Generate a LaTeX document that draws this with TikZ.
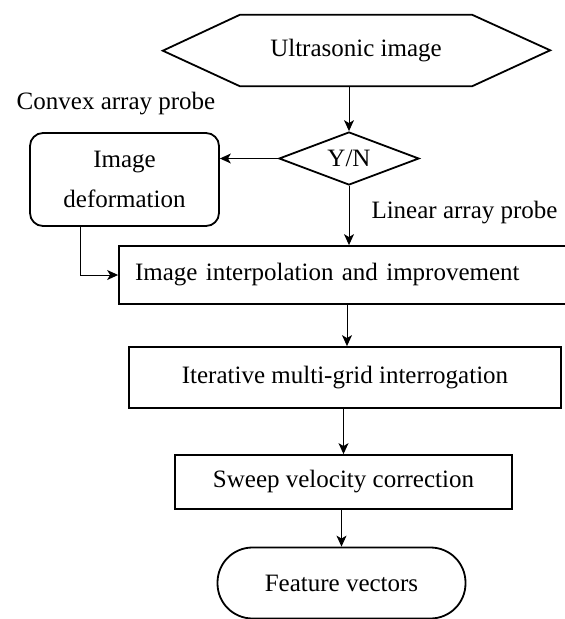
\documentclass[tikz,border=0pt]{standalone}
\usepackage{fontspec}
\setmainfont{Liberation Serif}
\usetikzlibrary{arrows.meta,shapes.geometric}

\tikzset{
  shapeline/.style={draw=black, line width=1.8pt},
  procbox/.style={shapeline, rectangle, inner sep=0pt, align=center},
  roundbox/.style={shapeline, rectangle, rounded corners=13pt, inner sep=0pt, align=center},
  decision/.style={shapeline, diamond, aspect=2.64, inner sep=1pt},
  terminal/.style={shapeline, rectangle, rounded corners=35pt, inner sep=0pt},
  plain/.style={inner sep=0pt},
  arr/.style={draw=black, line width=1pt, -{Stealth[length=11pt,width=10pt,inset=3pt]}},
}

\begin{document}
\begin{tikzpicture}[x=1pt, y=-1pt, font=\fontsize{25}{40}\selectfont]
  \useasboundingbox (0,0) rectangle (565,619);

  % start: hexagon
  \node[plain, minimum width=232pt, minimum height=71pt] (hex) at (356,50.5) {Ultrasonic image};
  \draw[line width=1.8pt, line join=miter]
    (hex.north west) -- (hex.north east) -- ++(78,35.5) -- (hex.south east)
    -- (hex.south west) -- ++(-77,-35.5) -- cycle;

  % probe decision
  \node[decision, minimum width=140pt, minimum height=53pt] (dia) at (349,158.5) {Y/N};

  % convex branch
  \node[roundbox, minimum width=189pt, minimum height=93pt] (deform) at (124.5,179.5)
    {Image\\deformation};
  \node[plain] (convex) at (116,104) {Convex array probe};
  \node[plain] (linear) at (464.5,213) {Linear array probe};

  % processing chain
  \node[procbox, minimum height=58pt, text width=420pt, align=left, inner xsep=16pt] (interp)
    at (345,275) {Image interpolation and improvement};
  \node[procbox, minimum width=432pt, minimum height=61pt] (iter) at (345,377.5)
    {Iterative multi-grid interrogation};
  \node[procbox, minimum width=337pt, minimum height=54pt] (sweep) at (343.5,482)
    {Sweep velocity correction};
  \node[terminal, minimum width=248pt, minimum height=71pt] (feat) at (341.5,583)
    {Feature vectors};

  % connectors
  \draw[arr] (dia.north |- hex.south) -- (dia.north);
  \draw[arr] (dia.west) -- (dia.west -| deform.east);
  \draw[arr] (dia.south) -- (dia.south |- interp.north);
  \draw[arr] ([xshift=-44.5pt]deform.south) |- (interp.west);
  \draw[arr] ([xshift=2pt]iter.north |- interp.south) -- ([xshift=2pt]iter.north);
  \draw[arr] (sweep.north |- iter.south) -- (sweep.north);
  \draw[arr] (feat.north |- sweep.south) -- (feat.north);
\end{tikzpicture}
\end{document}
